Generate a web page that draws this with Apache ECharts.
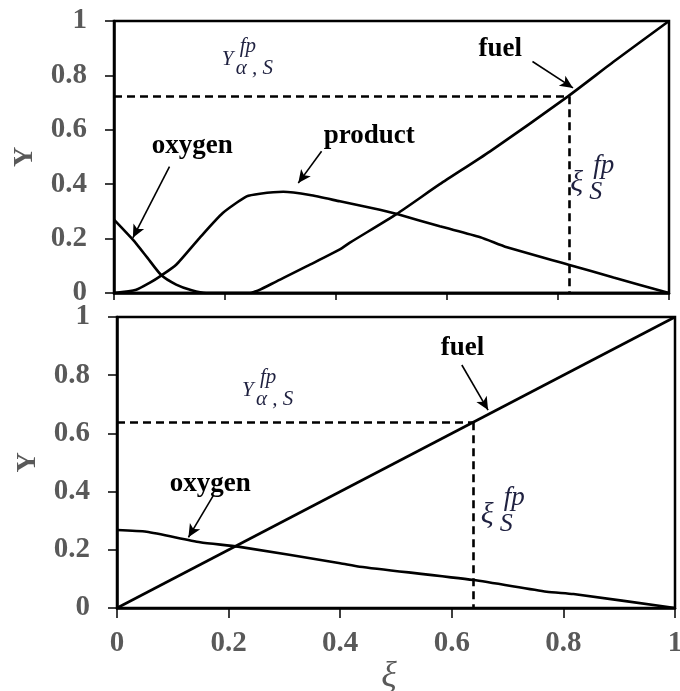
<!DOCTYPE html>
<html>
<head>
<meta charset="utf-8">
<script src="https://cdn.jsdelivr.net/npm/echarts@6/dist/echarts.min.js"></script>
<style>
  html, body { margin: 0; padding: 0; background: #fff; }
  #chart { width: 680px; height: 691px; }
</style>
</head>
<body>
<div id="chart"></div>
<script>
// ---- Upper panel: fuel, oxygen and product mass fractions vs mixture fraction ----
const upperFuelXi    = [0, 0.245, 0.293, 0.353, 0.407, 0.425, 0.509, 0.587, 0.677, 0.818, 0.9, 1];
const upperFuelY     = [0, 0, 0.043, 0.104, 0.16, 0.185, 0.29, 0.40, 0.52, 0.723, 0.85, 1];
const upperProductXi = [0, 0.04, 0.064, 0.085, 0.112, 0.154, 0.196, 0.239, 0.263, 0.305, 0.353, 0.407, 0.479, 0.51, 0.587, 0.66, 0.708, 0.819, 0.9, 1];
const upperProductY  = [0, 0.012, 0.037, 0.064, 0.104, 0.202, 0.294, 0.355, 0.365, 0.372, 0.36, 0.337, 0.306, 0.29, 0.245, 0.205, 0.168, 0.104, 0.057, 0];
const upperOxygenXi  = [0, 0.034, 0.06, 0.085, 0.112, 0.14, 0.166, 0.2, 1];
const upperOxygenY   = [0.27, 0.196, 0.13, 0.066, 0.031, 0.01, 0, 0, 0];
const upperFp        = [0.82, 0.723];   // [xi_S^fp, Y_alpha,S^fp]

// ---- Lower panel: fuel and oxygen only ----
const lowerFuelXi    = [0, 1];
const lowerFuelY     = [0, 1];
const lowerOxygenXi  = [0, 0.053, 0.149, 0.217, 0.4, 0.435, 0.639, 0.77, 0.818, 1];
const lowerOxygenY   = [0.268, 0.262, 0.226, 0.211, 0.154, 0.142, 0.096, 0.056, 0.048, 0];
const lowerFp        = [0.638, 0.638];

// Axis ranges shared by both panels
const axisMin = 0, axisMax = 1, axisStep = 0.2;

// Pointer arrows (tail -> head) in data space
const upperArrows = [[[0.10, 0.465], [0.034, 0.203]], [[0.374, 0.521], [0.332, 0.404]], [[0.754, 0.851], [0.827, 0.754]]];
const lowerArrows = [[[0.173, 0.388], [0.128, 0.243]], [[0.618, 0.835], [0.665, 0.68]]];

// Curve names placed in data space
const upperNames = [['oxygen', 0.141, 0.542], ['product', 0.46, 0.578], ['fuel', 0.696, 0.898]];
const lowerNames = [['oxygen', 0.167, 0.427], ['fuel', 0.619, 0.894]];

const zip = (xs, ys) => xs.map((x, i) => [x, ys[i]]);

const SERIF = 'Liberation Serif, Times New Roman, serif';
const GRAY = '#595959';
const INK = '#1f2140';

function lineSeries(idx, xs, ys, extra) {
  return Object.assign({
    type: 'line', xAxisIndex: idx, yAxisIndex: idx,
    data: zip(xs, ys), showSymbol: false, symbol: 'none',
    smooth: 0.2, silent: true,
    lineStyle: { color: '#000', width: 2.6 }
  }, extra || {});
}

function guideLines(fp) {
  return {
    silent: true, symbol: 'none', label: { show: false },
    lineStyle: { color: '#000', width: 2.6, type: [8, 5] },
    data: [
      [{ coord: [0, fp[1]] }, { coord: [fp[0], fp[1]] }],
      [{ coord: [fp[0], fp[1]] }, { coord: [fp[0], 0] }]
    ]
  };
}

function arrowLines(list) {
  return {
    silent: true, symbol: ['none', 'arrow'], symbolSize: [9, 13], label: { show: false },
    lineStyle: { color: '#000', width: 1.6, type: 'solid' },
    data: list.map(a => [{ coord: a[0] }, { coord: a[1] }])
  };
}

function makeXAxis(idx, showLabels) {
  return {
    type: 'value', gridIndex: idx, min: axisMin, max: axisMax, interval: axisStep,
    axisLine: { onZero: false, lineStyle: { color: '#000', width: 2.5 } },
    axisTick: { show: true, length: showLabels ? 10 : 7, lineStyle: { color: '#000', width: 1.5 } },
    splitLine: { show: false },
    axisLabel: {
      show: showLabels, margin: 21, color: GRAY,
      fontFamily: SERIF, fontWeight: 'bold', fontSize: 29
    },
    name: showLabels ? 'ξ' : '', nameLocation: 'middle', nameGap: 48,
    nameTextStyle: { color: GRAY, fontFamily: SERIF, fontStyle: 'italic', fontSize: 36, padding: [0, 14, 0, 0] }
  };
}

function makeYAxis(idx) {
  return {
    type: 'value', gridIndex: idx, min: axisMin, max: axisMax, interval: axisStep,
    axisLine: { onZero: false, lineStyle: { color: '#000', width: 2.5 } },
    axisTick: { show: true, length: 9, lineStyle: { color: '#000', width: 1.5 } },
    splitLine: { show: false },
    axisLabel: { margin: 27, color: GRAY, fontFamily: SERIF, fontWeight: 'bold', fontSize: 29 },
    name: 'Y', nameLocation: 'middle', nameGap: 75, nameRotate: 90,
    nameTextStyle: { color: GRAY, fontFamily: SERIF, fontWeight: 'bold', fontSize: 28 }
  };
}

const chart = echarts.init(document.getElementById('chart'), null, { renderer: 'canvas' });

const gridBase = { show: true, borderColor: '#000', borderWidth: 2.5, backgroundColor: 'transparent', containLabel: false, outerBoundsMode: 'none' };

chart.setOption({
  animation: false,
  backgroundColor: '#fff',
  grid: [
    Object.assign({ left: 114, top: 21, width: 555, height: 272 }, gridBase),
    Object.assign({ left: 117, top: 317, width: 558, height: 291 }, gridBase)
  ],
  xAxis: [makeXAxis(0, false), makeXAxis(1, true)],
  yAxis: [makeYAxis(0), makeYAxis(1)],
  series: [
    lineSeries(0, upperFuelXi, upperFuelY, { markLine: guideLines(upperFp) }),
    lineSeries(0, upperProductXi, upperProductY),
    lineSeries(0, upperOxygenXi, upperOxygenY, { markLine: arrowLines(upperArrows) }),
    lineSeries(1, lowerFuelXi, lowerFuelY, { smooth: false, markLine: guideLines(lowerFp) }),
    lineSeries(1, lowerOxygenXi, lowerOxygenY, { markLine: arrowLines(lowerArrows) })
  ]
});

// ---- text annotations, anchored in data space ----
function px(gridIndex, pt) {
  return chart.convertToPixel({ gridIndex: gridIndex }, pt);
}

function nameText(gridIndex, item) {
  const p = px(gridIndex, [item[1], item[2]]);
  return {
    type: 'text', x: p[0], y: p[1], silent: true,
    style: {
      text: item[0], fill: '#000', align: 'center', verticalAlign: 'middle',
      font: 'bold 27px ' + SERIF
    }
  };
}

// Stacked super/subscript symbol: main glyph, superscript and subscript offsets in px
function symbolGroup(gridIndex, at, parts) {
  const p = px(gridIndex, at);
  return {
    type: 'group', x: p[0], y: p[1], silent: true,
    children: parts.map(t => ({
      type: 'text', x: t[1], y: t[2],
      style: {
        text: t[0], fill: INK, align: 'left', verticalAlign: 'middle',
        font: 'italic ' + t[3] + 'px ' + SERIF
      }
    }))
  };
}

const yFpParts  = [['Y', 0, 0, 21], ['fp', 18, -13, 21], ['α , S', 14, 9, 21]];
const xiFpParts = [['ξ', 0, 0, 30], ['fp', 23, -17, 27], ['S', 19, 9, 26]];

chart.setOption({
  graphic: [
    ...upperNames.map(n => nameText(0, n)),
    ...lowerNames.map(n => nameText(1, n)),
    symbolGroup(0, [0.194, 0.858], yFpParts),
    symbolGroup(1, [0.224, 0.746], yFpParts),
    symbolGroup(0, [0.822, 0.405], xiFpParts),
    symbolGroup(1, [0.652, 0.32], xiFpParts)
  ]
});
</script>
</body>
</html>
